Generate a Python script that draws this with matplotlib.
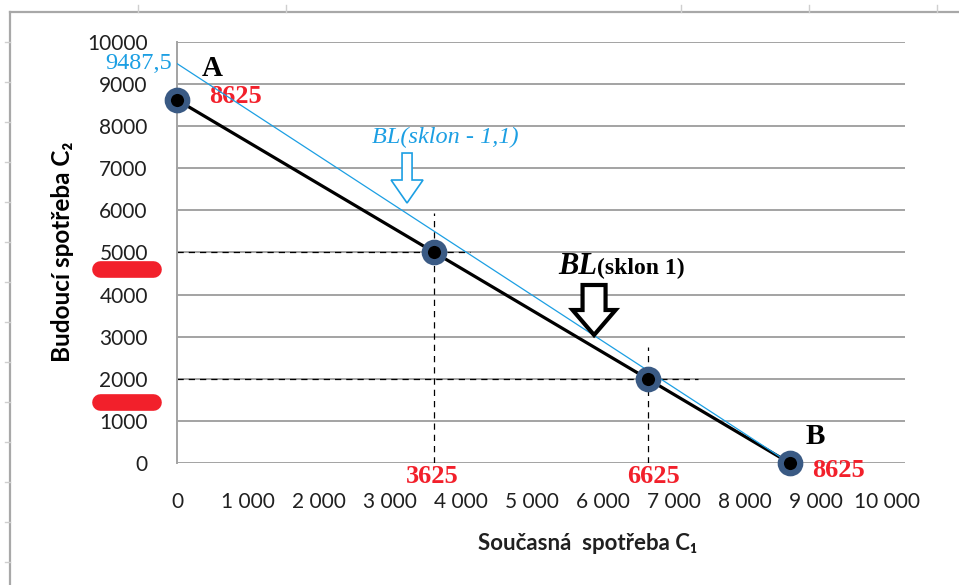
import matplotlib
matplotlib.use("Agg")
import matplotlib.pyplot as plt
from matplotlib.lines import Line2D
from matplotlib.patches import FancyArrow

# ── data ───────────────────────────────────────────────────────────────────────
c1_points = [0, 3625, 6625, 8625]          # current consumption C1
c2_points = [8625, 5000, 2000, 0]          # future consumption C2 (slope -1)
bl_steep_c1 = [0, 8625]                    # budget line with slope -1.1
bl_steep_c2 = [9487.5, 0]

guide_h = [(5000, 4130), (2000, 7330)]     # (C2 level, C1 end of dashed line)
guide_v = [(3625, 5940), (6625, 2750)]     # (C1 level, C2 end of dashed line)

x_ticks = [0, 1000, 2000, 3000, 4000, 5000, 6000, 7000, 8000, 9000, 10000]
x_ticklabels = ["0", "1 000", "2 000", "3 000", "4 000", "5 000",
                "6 000", "7 000", "8 000", "9 000", "10 000"]
y_ticks = [0, 1000, 2000, 3000, 4000, 5000, 6000, 7000, 8000, 9000, 10000]
y_ticklabels = [str(v) for v in y_ticks]

W, H = 959, 585
BLUE = "#1C9FE3"
RED = "#F2202B"
GRID = "#A3A3A3"

fig = plt.figure(figsize=(W / 100, H / 100), dpi=100)
ax = fig.add_axes([177 / W, 1 - 463 / H, 728 / W, 421 / H])

# ── lines ──────────────────────────────────────────────────────────────────────
for level, end in guide_h:
    ax.plot([0, end], [level, level], color="black", lw=0.9, ls=(0, (5, 4)), zorder=2)
for level, end in guide_v:
    ax.plot([level, level], [0, end], color="black", lw=0.9, ls=(0, (5, 4)), zorder=2)

ax.plot(c1_points, c2_points, color="black", lw=2.3, zorder=3)
ax.plot(bl_steep_c1, bl_steep_c2, color=BLUE, lw=0.9, zorder=4)
ax.plot(c1_points, c2_points, ls="none", marker="o", ms=14, mfc="black",
        mec="#3A5A84", mew=4.5, zorder=5, clip_on=False)

# ── arrows ─────────────────────────────────────────────────────────────────────
ax.add_patch(FancyArrow(3239, 7363, 0, -1187, width=141, head_width=450,
                        head_length=546, length_includes_head=True,
                        fc="white", ec=BLUE, lw=1.2, zorder=6))
ax.add_patch(FancyArrow(5872, 4228, 0, -1188, width=324, head_width=605,
                        head_length=594, length_includes_head=True,
                        fc="white", ec="black", lw=3, zorder=6))

# ── annotations ────────────────────────────────────────────────────────────────
serif = "Liberation Serif"
ax.text(493, 9382, "A", family=serif, weight="bold", fontsize=21, ha="center", va="center")
ax.text(8983, 618, "B", family=serif, weight="bold", fontsize=21, ha="center", va="center")
for x, y, s in [(817, 8694, "8625"), (3591, -309, "3625"),
                (6716, -309, "6625"), (9307, -190, "8625")]:
    ax.text(x, y, s, family=serif, weight="bold", fontsize=19, color=RED,
            ha="center", va="center", clip_on=False)
ax.text(-70, 9501, "9487,5", family=serif, fontsize=17.5, color=BLUE,
        ha="right", va="center")
ax.text(3774, 7743, "BL(sklon - 1,1)", family=serif, style="italic", fontsize=17.5,
        color=BLUE, ha="center", va="center")
ax.text(5914, 4489, "BL", family=serif, style="italic", weight="bold", fontsize=22,
        ha="right", va="baseline")
ax.text(5914, 4489, "(sklon 1)", family=serif, weight="bold", fontsize=17,
        ha="left", va="baseline")

# ── axes styling ───────────────────────────────────────────────────────────────
ax.set_xlim(0, 10250)
ax.set_ylim(0, 10000)
ax.set_xticks(x_ticks, x_ticklabels)
ax.set_yticks(y_ticks, y_ticklabels)
ax.tick_params(length=0, labelsize=15, pad=21)
for lab in ax.get_xticklabels() + ax.get_yticklabels():
    lab.set_family("Lato")
    lab.set_color("#202020")
ax.grid(axis="y", color=GRID, lw=1.4)
ax.set_axisbelow(True)
for side in ["top", "right", "bottom"]:
    ax.spines[side].set_visible(False)
ax.spines["left"].set_color(GRID)
ax.spines["left"].set_linewidth(1.4)

fig.text(62 / W, 1 - 252 / H, "Budoucí spotřeba C\u2082", rotation=90,
         family=["Lato", "DejaVu Sans"], weight="bold", fontsize=17.5,
         ha="center", va="center")
fig.text(588 / W, 1 - 543 / H, "Současná  spotřeba C\u2081",
         family=["Lato", "DejaVu Sans"], weight="bold", fontsize=16,
         ha="center", va="center", color="#202020")

# ── red scribbles over the axis ────────────────────────────────────────────────
for y in [269, 402]:
    fig.add_artist(Line2D([100 / W, 153 / W], [1 - y / H, 1 - y / H],
                          color=RED, lw=12, solid_capstyle="round"))

# ── outer frame ────────────────────────────────────────────────────────────────
frame = "#A8A8A8"
fig.add_artist(Line2D([10 / W, 10 / W], [0, 1 - 12 / H], color=frame, lw=1.6))
fig.add_artist(Line2D([10 / W, 1], [1 - 12 / H, 1 - 12 / H], color=frame, lw=1.6))
for y in range(42, H, 40):
    fig.add_artist(Line2D([5 / W, 10 / W], [1 - y / H, 1 - y / H], color="#CFCFCF", lw=1))
for x in [138, 286, 681, 809, 937]:
    fig.add_artist(Line2D([x / W, x / W], [1 - 5 / H, 1 - 12 / H], color="#CFCFCF", lw=1))

fig.savefig("out.png", dpi=100)
